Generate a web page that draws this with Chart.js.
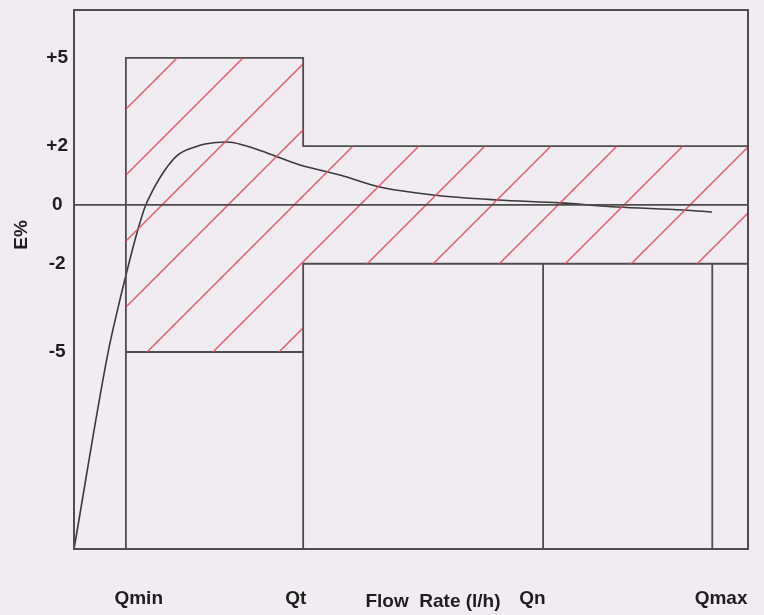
<!DOCTYPE html>
<html>
<head>
<meta charset="utf-8">
<script src="https://cdn.jsdelivr.net/npm/chart.js@4/dist/chart.umd.min.js"></script>
<style>
  html, body { margin: 0; padding: 0; background: #f1ebf2; }
</style>
</head>
<body>
<canvas id="myChart" width="764" height="615"></canvas>
<script>
var ctx = document.getElementById('myChart').getContext('2d');

// flow axis runs 0..100 (arbitrary units), error axis in %
var flowMax = 100;
var errMin = -11.7;
var errMax = 6.63;

var qNames = ['Qmin', 'Qt', 'Qn', 'Qmax'];
var qFlow = [7.7, 34.0, 69.6, 94.7];      // where the limit lines sit
var qLabelAt = [9.6, 32.9, 68.0, 96.0];   // where the names are printed

var errTicks = [5, 2, 0, -2, -5];
var upperLimit = [5, 2];    // low zone (Qmin..Qt), high zone (Qt..)
var lowerLimit = [-5, -2];

var curveFlow = [0, 5.04, 6.53, 8.01, 9.05, 10.53, 11.72, 13.50, 15.43, 17.95, 19.44,
  22.70, 25.07, 28.64, 33.53, 39.47, 45.40, 53.26, 62.76, 72.11, 80.56, 90.36, 94.66];
var curveErr = [-11.7, -5.03, -3.50, -2.11, -1.19, -0.07, 0.51, 1.19, 1.70, 1.97, 2.07,
  2.14, 2.04, 1.77, 1.36, 1.02, 0.61, 0.34, 0.17, 0.07, -0.07, -0.17, -0.24];

var xTitle = 'Flow  Rate (l/h)';
var yTitle = 'E%';

var lineColor = '#4d4d4d';
var textColor = '#1e1e1e';
var font = { family: '"Liberation Sans", Arial, sans-serif', size: 19, weight: 'bold' };

function hatch() {
  var c = document.createElement('canvas');
  c.width = 66; c.height = 66;
  var g = c.getContext('2d');
  g.strokeStyle = 'rgba(226,80,95,0.9)';
  g.lineWidth = 1.5;
  g.beginPath();
  g.moveTo(-10, 47); g.lineTo(47, -10);
  g.moveTo(-10, 113); g.lineTo(113, -10);
  g.stroke();
  return ctx.createPattern(c, 'repeat');
}

function noPad(s) {
  s.paddingTop = 0; s.paddingBottom = 0; s.paddingLeft = 0; s.paddingRight = 0;
}

// outline of the tolerance boxes, broken with nulls
var gap = { x: 0, y: null };
var outline = [
  { x: qFlow[0], y: errMin }, { x: qFlow[0], y: upperLimit[0] }, { x: qFlow[1], y: upperLimit[0] },
  { x: qFlow[1], y: upperLimit[1] }, { x: flowMax, y: upperLimit[1] }, gap,
  { x: qFlow[0], y: lowerLimit[0] }, { x: qFlow[1], y: lowerLimit[0] }, gap,
  { x: qFlow[1], y: errMin }, { x: qFlow[1], y: lowerLimit[1] }, { x: flowMax, y: lowerLimit[1] }, gap,
  { x: qFlow[2], y: errMin }, { x: qFlow[2], y: lowerLimit[1] }, gap,
  { x: qFlow[3], y: errMin }, { x: qFlow[3], y: lowerLimit[1] }
];

var frame = {
  id: 'frame',
  afterDraw: function(chart) {
    var c = chart.ctx, a = chart.chartArea;
    c.save();
    c.strokeStyle = lineColor;
    c.lineWidth = 2;
    c.strokeRect(a.left, a.top, a.right - a.left, a.bottom - a.top);
    c.fillStyle = textColor;
    c.font = 'bold 19px "Liberation Sans", Arial, sans-serif';
    c.textAlign = 'center';
    c.textBaseline = 'middle';
    c.fillText(xTitle, 433, 602);
    c.translate(22, 235);
    c.rotate(-Math.PI / 2);
    c.fillText(yTitle, 0, 0);
    c.restore();
  }
};

var config = {
  type: 'line',
  data: {
    datasets: [{
      // upper edge of the hatched band, filled down to the next dataset
      data: [{ x: qFlow[0], y: upperLimit[0] }, { x: qFlow[1], y: upperLimit[1] }, { x: flowMax, y: upperLimit[1] }],
      stepped: true,
      fill: '+1',
      backgroundColor: hatch(),
      borderWidth: 0,
      borderColor: 'rgba(0,0,0,0)',
      pointRadius: 0
    }, {
      data: [{ x: qFlow[0], y: lowerLimit[0] }, { x: qFlow[1], y: lowerLimit[1] }, { x: flowMax, y: lowerLimit[1] }],
      stepped: true,
      fill: false,
      borderWidth: 0,
      borderColor: 'rgba(0,0,0,0)',
      pointRadius: 0
    }, {
      data: outline,
      borderColor: lineColor,
      borderWidth: 1.8,
      pointRadius: 0,
      fill: false,
      spanGaps: false
    }, {
      data: curveFlow.map(function(x, i) { return { x: x, y: curveErr[i] }; }),
      borderColor: '#3a3a3a',
      borderWidth: 1.6,
      pointRadius: 0,
      fill: false,
      cubicInterpolationMode: 'monotone'
    }]
  },
  options: {
    responsive: false,
    animation: false,
    layout: { padding: { top: 10, right: 16, left: 0, bottom: 0 } },
    plugins: { legend: { display: false }, tooltip: { enabled: false } },
    scales: {
      x: {
        type: 'linear',
        min: 0,
        max: flowMax,
        afterBuildTicks: function(s) { s.ticks = qLabelAt.map(function(v) { return { value: v }; }); },
        afterFit: function(s) { s.height = 66; noPad(s); },
        grid: { display: false },
        border: { display: false },
        ticks: {
          autoSkip: false,
          maxRotation: 0,
          padding: 30,
          color: textColor,
          font: font,
          callback: function(v, i) { return qNames[i]; }
        }
      },
      y: {
        type: 'linear',
        min: errMin,
        max: errMax,
        afterBuildTicks: function(s) { s.ticks = errTicks.map(function(v) { return { value: v }; }); },
        afterFit: function(s) { s.width = 74; noPad(s); },
        border: { display: false },
        grid: {
          drawTicks: false,
          z: 1,
          lineWidth: 1.8,
          color: function(c) { return c.tick && c.tick.value === 0 ? lineColor : 'rgba(0,0,0,0)'; }
        },
        ticks: {
          crossAlign: 'center',
          padding: 6,
          color: textColor,
          font: font,
          callback: function(v) { return v > 0 ? '+' + v : '' + v; }
        }
      }
    }
  },
  plugins: [frame]
};

var chart = new Chart(ctx, config);
</script>
</body>
</html>
